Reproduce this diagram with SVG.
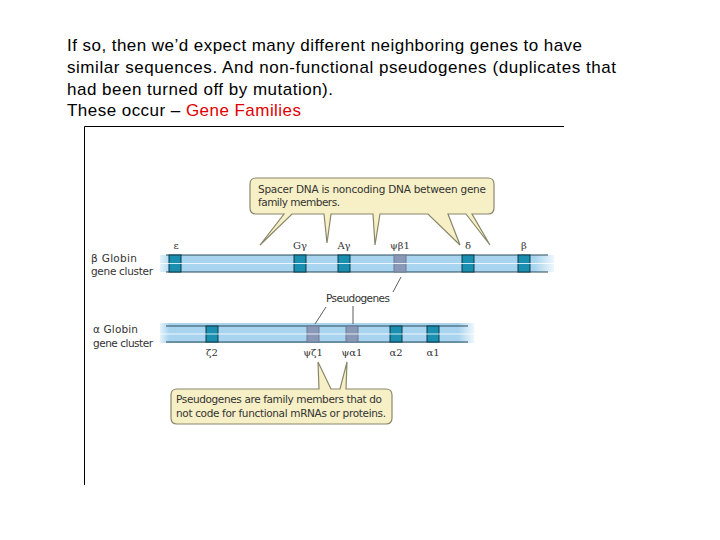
<svg xmlns="http://www.w3.org/2000/svg" width="720" height="540" viewBox="0 0 720 540">
<style>
.t{font-family:"Liberation Sans",Arial,sans-serif;font-size:17px;fill:#000}
.s{font-family:"DejaVu Sans",sans-serif;font-size:10.5px;fill:#333}
.g{font-family:"DejaVu Serif",serif;font-size:10px;fill:#333;text-anchor:middle}
.gene{fill:#1a8fb0;stroke:#0b3a4a;stroke-width:1}
.pse{fill:#8a98b8;stroke:#6d7a96;stroke-width:1}
.box{fill:#f7f0c6;stroke:#8a866a;stroke-width:1.2}
.ln{stroke:#333;stroke-width:0.8;fill:none}
</style>
<defs>
<linearGradient id="fade" x1="0" x2="1">
<stop offset="0" stop-color="#a8d4ef" stop-opacity="0.3"/>
<stop offset="0.03" stop-color="#a8d4ef"/>
<stop offset="0.95" stop-color="#a8d4ef"/>
<stop offset="1" stop-color="#a8d4ef" stop-opacity="0.2"/>
</linearGradient>
</defs>
<rect width="720" height="540" fill="#fff"/>
<g id="title">
<text class="t" x="67" y="51" textLength="515">If so, then we’d expect many different neighboring genes to have</text>
<text class="t" x="67" y="73" textLength="549">similar sequences.  And non-functional pseudogenes (duplicates that</text>
<text class="t" x="67" y="95" textLength="266">had been turned off by mutation).</text>
<text class="t" x="67" y="116" textLength="234">These occur – <tspan fill="#e00000">Gene Families</tspan></text>
</g>
<g id="frame"><path d="M84.5 485V126.5H564" stroke="#000" stroke-width="1" fill="none"/></g>
<g id="beta">
<rect x="160" y="255" width="394" height="17" fill="url(#fade)"/>
<line x1="166" y1="255" x2="548" y2="255" stroke="#2a4a5a" stroke-width="1"/>
<line x1="166" y1="272" x2="548" y2="272" stroke="#2a4a5a" stroke-width="1"/>
<rect class="gene" x="169" y="255" width="12" height="17"/>
<rect class="gene" x="294" y="255" width="12" height="17"/>
<rect class="gene" x="338" y="255" width="12" height="17"/>
<rect class="pse" x="394" y="255" width="12" height="17"/>
<rect class="gene" x="462" y="255" width="12" height="17"/>
<rect class="gene" x="518" y="255" width="12" height="17"/>
<line x1="160" y1="263.5" x2="554" y2="263.5" stroke="#fff" stroke-width="0.8"/>
<text class="g" x="176" y="249">ε</text>
<text class="g" x="300" y="249">Gγ</text>
<text class="g" x="344" y="249">Aγ</text>
<text class="g" x="400" y="249">ψβ1</text>
<text class="g" x="468" y="249">δ</text>
<text class="g" x="524" y="249">β</text>
<text class="s" x="91" y="262" textLength="46">β Globin</text>
<text class="s" x="91" y="275" textLength="62">gene cluster</text>
</g>
<g id="alpha">
<rect x="160" y="323" width="314" height="20" fill="url(#fade)"/>
<line x1="166" y1="326" x2="468" y2="326" stroke="#2a4a5a" stroke-width="1"/>
<line x1="166" y1="342" x2="468" y2="342" stroke="#2a4a5a" stroke-width="1"/>
<rect class="gene" x="206" y="326" width="12" height="16"/>
<rect class="pse" x="307" y="326" width="12" height="16"/>
<rect class="pse" x="346" y="326" width="12" height="16"/>
<rect class="gene" x="390" y="326" width="12" height="16"/>
<rect class="gene" x="427" y="326" width="12" height="16"/>
<line x1="160" y1="334" x2="474" y2="334" stroke="#fff" stroke-width="0.8"/>
<text class="g" x="212" y="356">ζ2</text>
<text class="g" x="313" y="356">ψζ1</text>
<text class="g" x="352" y="356">ψα1</text>
<text class="g" x="396" y="356">α2</text>
<text class="g" x="433" y="356">α1</text>
<text class="s" x="93" y="333" textLength="45">α Globin</text>
<text class="s" x="93" y="347" textLength="60">gene cluster</text>
</g>
<g id="pseudo">
<text class="s" x="326" y="302" textLength="64">Pseudogenes</text>
</g>
<g id="callout1">
<path class="box" d="M256 178H488Q494 178 494 184V208Q494 214 488 214H472L490 245L466 214H448L460 245L428 214H380L375 245L373 214H331L327 243L324 214H292L260 245L284 214H256Q250 214 250 208V184Q250 178 256 178Z"/>
<text class="s" x="258" y="193" textLength="228">Spacer DNA is noncoding DNA between gene</text>
<text class="s" x="258" y="206" textLength="82">family members.</text>
</g>
<g id="callout2">
<path class="box" d="M177 389H319L318 362L331 389H340L347 362L346 389H386Q392 389 392 395V418Q392 424 386 424H177Q171 424 171 418V395Q171 389 177 389Z"/>
<text class="s" x="176" y="403" textLength="206">Pseudogenes are family members that do</text>
<text class="s" x="176" y="417" textLength="210">not code for functional mRNAs or proteins.</text>
</g>
<g id="connectors">
<line class="ln" x1="401" y1="277" x2="393" y2="292"/>
<line class="ln" x1="326" y1="307" x2="315" y2="324"/>
<line class="ln" x1="353" y1="306" x2="353" y2="324"/>
</g>
</svg>
